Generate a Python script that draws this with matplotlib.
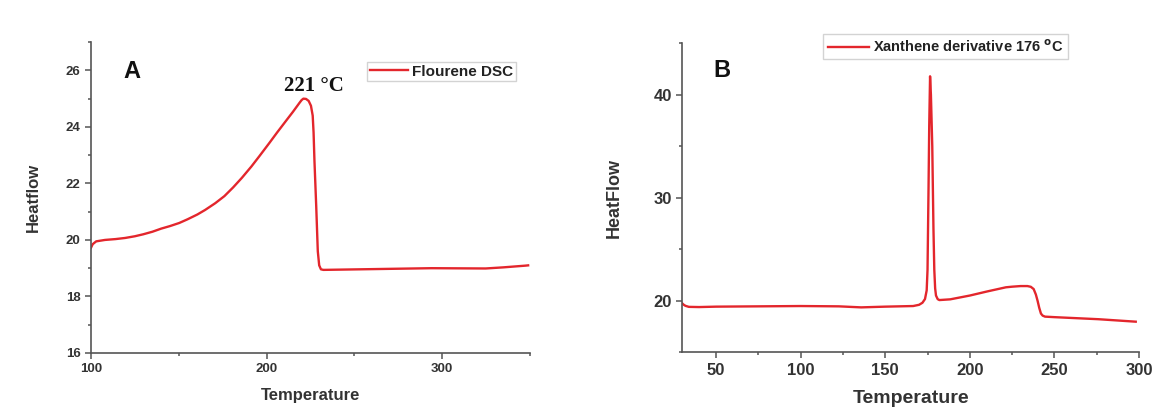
import matplotlib
matplotlib.use("Agg")
import matplotlib.pyplot as plt
from matplotlib.ticker import MultipleLocator

# Fluorene DSC trace (temperature in degC, heat flow)
temp_a = [100, 101, 103, 108, 114, 119.5, 125, 129.8, 135, 140, 145, 150.3, 155,
          160.6, 165, 170.8, 176, 181, 186, 191.4, 196, 201.6, 206, 211.9, 215,
          217, 219, 220, 221, 222.5, 224, 225.3, 226.3, 226.8, 227.3, 228.3, 229.2,
          230, 231, 232.4, 253, 294, 324.8, 335, 347.4, 349]
flow_a = [19.72, 19.85, 19.95, 20.0, 20.03, 20.07, 20.13, 20.2, 20.29, 20.4, 20.49,
          20.6, 20.73, 20.9, 21.06, 21.3, 21.55, 21.86, 22.2, 22.6, 22.97, 23.43,
          23.8, 24.28, 24.53, 24.7, 24.87, 24.95, 25.0, 24.99, 24.92, 24.75, 24.4,
          23.8, 22.8, 21.2, 19.6, 19.1, 18.96, 18.94, 18.96, 19.0, 18.99, 19.03,
          19.09, 19.1]

# Xanthene derivative DSC trace
temp_b = [30, 31, 32, 34, 40, 50, 100, 122.6, 135.8, 150, 166.5, 170, 172, 173.5,
          174.5, 175, 175.6, 176, 176.5, 177, 177.8, 178.5, 179, 179.5, 180, 181,
          182, 188.4, 200, 210.3, 221.3, 225, 230, 234, 236, 237.7, 239, 240, 241,
          242, 243, 244.4, 250, 276, 298]
flow_b = [19.75, 19.6, 19.5, 19.4, 19.38, 19.42, 19.48, 19.45, 19.35, 19.42, 19.48,
          19.6, 19.8, 20.16, 21.0, 23.0, 31.0, 37.0, 41.8, 40.0, 35.0, 27.0, 23.0,
          21.2, 20.5, 20.15, 20.06, 20.13, 20.5, 20.9, 21.3, 21.36, 21.42, 21.42,
          21.35, 21.13, 20.6, 20.0, 19.3, 18.75, 18.55, 18.45, 18.4, 18.2, 17.96]

peak_a = 221
peak_b = 176

RED = "#e3262c"
INK = "#333333"
SPINE = "#555555"

plt.rcParams["font.family"] = ["Liberation Sans", "DejaVu Sans"]
plt.rcParams["font.weight"] = "bold"

fig = plt.figure(figsize=(11.6, 4.09), dpi=100)
ax_a = fig.add_axes([0.0784, 0.137, 0.3784, 0.760])
ax_b = fig.add_axes([0.588, 0.139, 0.394, 0.755])


def style_axis(ax, labelsize):
    for side in ("top", "right"):
        ax.spines[side].set_visible(False)
    for side in ("left", "bottom"):
        ax.spines[side].set_color(SPINE)
        ax.spines[side].set_linewidth(1.2)
    ax.tick_params(which="both", direction="out", color=SPINE, width=1.1,
                   labelcolor=INK, labelsize=labelsize)
    ax.tick_params(which="major", length=4)
    ax.tick_params(which="minor", length=2.5)
    for lab in ax.get_xticklabels() + ax.get_yticklabels():
        lab.set_fontweight("bold")


# panel A
ax_a.plot(temp_a, flow_a, color=RED, lw=1.7, label="Flourene DSC")
ax_a.set_xlim(100, 350)
ax_a.set_ylim(16, 27)
ax_a.xaxis.set_major_locator(MultipleLocator(100))
ax_a.xaxis.set_minor_locator(MultipleLocator(50))
ax_a.yaxis.set_major_locator(MultipleLocator(2))
ax_a.yaxis.set_minor_locator(MultipleLocator(1))
style_axis(ax_a, 9.5)
ax_a.set_xlabel("Temperature", fontsize=12, fontweight="bold", color=INK, labelpad=9)
ax_a.set_ylabel("Heatflow", fontsize=12, fontweight="bold", color=INK, labelpad=18)
ax_a.text(0.093, 0.904, "A", transform=ax_a.transAxes, fontsize=17,
          ha="center", va="center", color="#111111")
ax_a.text(peak_a + 6, 25.45, f"{peak_a} °C",
          family=["Liberation Serif", "DejaVu Serif"], fontsize=15,
          fontweight="bold", ha="center", va="center", color="#111111")
leg_a = ax_a.legend(loc="upper right", bbox_to_anchor=(0.968, 0.935),
                    frameon=True, fancybox=False, edgecolor="#c8c8c8",
                    handlelength=2.5, borderpad=0.15, handletextpad=0.3,
                    borderaxespad=0.0, prop={"size": 11, "weight": "bold"})
for t in leg_a.get_texts():
    t.set_color("#222222")

# panel B
ax_b.plot(temp_b, flow_b, color=RED, lw=1.7,
          label=f"Xanthene derivative {peak_b} " + r"$^{\mathbf{o}}$C")
ax_b.set_xlim(30, 300)
ax_b.set_ylim(15, 45)
ax_b.xaxis.set_major_locator(MultipleLocator(50))
ax_b.xaxis.set_minor_locator(MultipleLocator(25))
ax_b.yaxis.set_major_locator(MultipleLocator(10))
ax_b.yaxis.set_minor_locator(MultipleLocator(5))
style_axis(ax_b, 12)
ax_b.set_yticks([20, 30, 40])
ax_b.set_xlabel("Temperature", fontsize=14, fontweight="bold", color=INK, labelpad=9)
ax_b.set_ylabel("HeatFlow", fontsize=13, fontweight="bold", color=INK, labelpad=22)
ax_b.text(0.0875, 0.913, "B", transform=ax_b.transAxes, fontsize=17,
          ha="center", va="center", color="#111111")
leg_b = ax_b.legend(loc="upper left", bbox_to_anchor=(0.309, 1.03),
                    frameon=True, fancybox=False, edgecolor="#c8c8c8",
                    handlelength=2.8, borderpad=0.3, handletextpad=0.3,
                    borderaxespad=0.0, prop={"size": 10.5, "weight": "bold"})
for t in leg_b.get_texts():
    t.set_color("#222222")

fig.savefig("out.png", dpi=100)
